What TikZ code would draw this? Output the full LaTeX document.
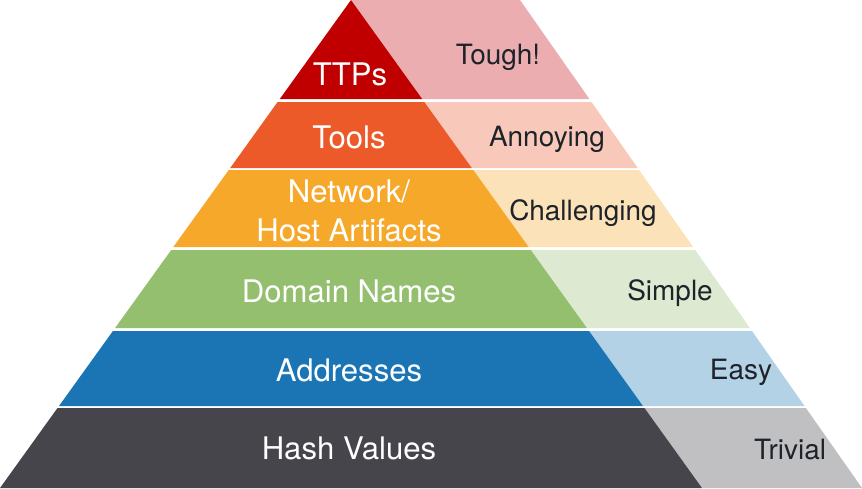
\documentclass[tikz,border=0pt]{standalone}
\usepackage{fontspec}
\setmainfont{TeX Gyre Heros}
\usepackage{xcolor}
\usepackage{tikz}

\definecolor{ttpdark}{HTML}{C00000}
\definecolor{ttplight}{HTML}{EBADB0}
\definecolor{tooldark}{HTML}{EC5A2A}
\definecolor{toollight}{HTML}{F8C9BA}
\definecolor{artdark}{HTML}{F6A82B}
\definecolor{artlight}{HTML}{FCE2B9}
\definecolor{domdark}{HTML}{94BF6F}
\definecolor{domlight}{HTML}{DDE9D0}
\definecolor{ipdark}{HTML}{1B75B5}
\definecolor{iplight}{HTML}{B4D2E6}
\definecolor{hashdark}{HTML}{45454B}
\definecolor{hashlight}{HTML}{C0C0C2}
\definecolor{labeltext}{HTML}{1D2329}

\tikzset{
  level/.style={font=\fontsize{17.7}{22}\selectfont, text=white, align=center},
  pain/.style={font=\fontsize{15.9}{19}\selectfont, text=labeltext}
}

\begin{document}
\begin{tikzpicture}[x=0.02cm, y=-0.02cm]
\useasboundingbox (0,0) rectangle (862,488);

% Light (right) parts
\fill[ttplight]  (351,0)   -- (520,0)     -- (589.4,99)  -- (422.2,99)  -- cycle;
\fill[toollight] (424.4,102) -- (591.5,102) -- (637.7,168) -- (471.8,168) -- cycle;
\fill[artlight]  (473.3,170) -- (639.1,170) -- (693.1,247) -- (528.7,247) -- cycle;
\fill[domlight]  (530.8,250) -- (695.2,250) -- (749.9,328) -- (586.9,328) -- cycle;
\fill[iplight]   (589.1,331) -- (752.0,331) -- (804.5,406) -- (643.0,406) -- cycle;
\fill[hashlight] (644.5,408) -- (805.9,408) -- (862,488)   -- (702.0,488) -- cycle;

% Dark (left) parts
\fill[ttpdark]  (351,0) -- (422.2,99) -- (279.8,99) -- cycle;
\fill[tooldark] (277.6,102) -- (424.4,102) -- (471.8,168) -- (230.2,168) -- cycle;
\fill[artdark]  (228.7,170) -- (473.3,170) -- (528.7,247) -- (173.3,247) -- cycle;
\fill[domdark]  (171.2,250) -- (530.8,250) -- (586.9,328) -- (115.1,328) -- cycle;
\fill[ipdark]   (112.9,331) -- (589.1,331) -- (643.0,406) -- (59.0,406)  -- cycle;
\fill[hashdark] (57.5,408)  -- (644.5,408) -- (702.0,488) -- (0,488)     -- cycle;

% Indicator names
\node[level] (ttps)  at (350,74)  {TTPs};
\node[level] (tools) at (349,137) {Tools};
\node[level] (arts)  at (349,211) {Network/\\Host Artifacts};
\node[level] (doms)  at (349,291) {Domain Names};
\node[level] (ips)   at (349,370) {Addresses};
\node[level] (hash)  at (349,448) {Hash Values};

% Pain labels
\node[pain] (tough)  at (498,57)  {Tough!};
\node[pain] (annoy)  at (547,139) {Annoying};
\node[pain] (chall)  at (583,213) {Challenging};
\node[pain] (simple) at (670,293) {Simple};
\node[pain] (easy)   at (741,372) {Easy};
\node[pain] (triv)   at (790,450) {Trivial};
\end{tikzpicture}
\end{document}
